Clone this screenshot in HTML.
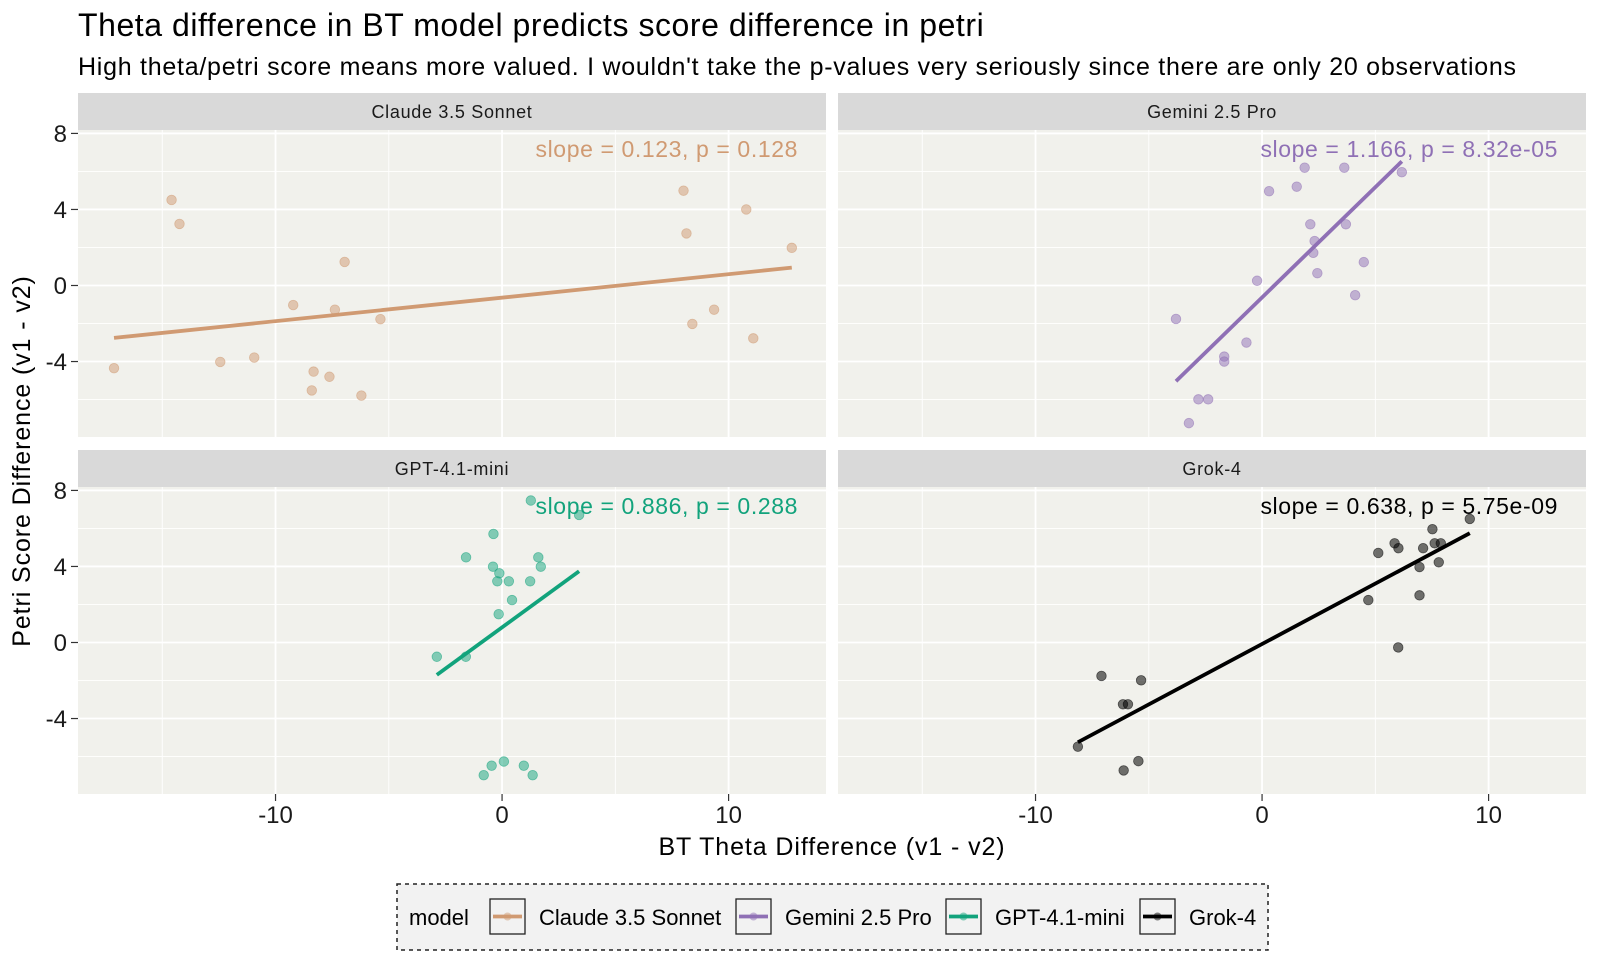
<!DOCTYPE html>
<html><head><meta charset="utf-8"><style>
body{margin:0;background:#fff;}
svg{display:block;font-family:"Liberation Sans",Arial,sans-serif;}
</style></head><body>
<svg id="chart" width="1600" height="960" viewBox="0 0 1600 960">
<text x="78" y="36" font-size="32" letter-spacing="0.55" fill="#000">Theta difference in BT model predicts score difference in petri</text>
<text x="78" y="75" font-size="25" letter-spacing="0.74" fill="#000">High theta/petri score means more valued. I wouldn't take the p-values very seriously since there are only 20 observations</text>
<text x="832" y="855" font-size="25" letter-spacing="0.9" text-anchor="middle" fill="#000">BT Theta Difference (v1 - v2)</text>
<text transform="translate(30,461) rotate(-90)" font-size="25" letter-spacing="0.9" text-anchor="middle" fill="#000">Petri Score Difference (v1 - v2)</text>
<g id="panels"></g>
<g>
<rect x="397" y="884" width="871" height="66" fill="#f2f2f2" stroke="#222" stroke-width="1.5" stroke-dasharray="4,4"/>
<text x="409" y="925" font-size="22">model</text>
<g id="legend-keys"></g>
</g>
</svg>
<script>
const models = ["Claude 3.5 Sonnet","Gemini 2.5 Pro","GPT-4.1-mini","Grok-4"];
const colors = ["#d09a72","#8f70b5","#12a37c","#000000"];
const annotations = ["slope = 0.123, p = 0.128","slope = 1.166, p = 8.32e-05","slope = 0.886, p = 0.288","slope = 0.638, p = 5.75e-09"];
const xTicks = [-10,0,10];
const xMinor = [-15,-5,5];
const yTicks = [-4,0,4,8];
const yMinor = [-6,-2,2,6];
const claudeX = [-17.13,-14.59,-14.24,-12.44,-10.94,-9.22,-8.32,-8.40,-7.62,-7.38,-6.95,-6.21,-5.37,8.01,8.14,8.40,9.36,10.78,11.09,12.79];
const claudeY = [-4.35,4.50,3.24,-4.02,-3.79,-1.03,-4.53,-5.52,-4.80,-1.27,1.24,-5.79,-1.77,4.99,2.74,-2.02,-1.27,4.00,-2.78,1.98];
const geminiX = [-3.80,-3.23,-2.81,-2.38,-1.67,-1.67,-0.69,-0.22,0.31,1.53,1.88,2.13,2.32,2.26,2.44,3.63,3.70,4.11,4.49,6.17];
const geminiY = [-1.76,-7.24,-5.99,-5.99,-3.74,-4.00,-3.00,0.25,4.96,5.20,6.20,3.22,2.34,1.72,0.65,6.20,3.22,-0.51,1.23,5.96];
const gptX = [-2.88,-1.60,-1.59,-0.38,-0.40,-0.12,-0.21,0.30,0.44,-0.15,1.24,1.27,1.60,1.71,3.40,-0.81,-0.46,0.08,0.96,1.35];
const gptY = [-0.75,-0.75,4.48,5.71,3.99,3.64,3.22,3.22,2.23,1.49,3.22,7.47,4.48,3.99,6.71,-6.98,-6.48,-6.26,-6.48,-6.98];
const grokX = [-8.13,-7.09,-6.14,-5.92,-5.34,-6.11,-5.46,4.69,5.13,5.85,6.02,6.01,6.95,6.95,7.11,7.52,7.62,7.89,7.80,9.17];
const grokY = [-5.48,-1.76,-3.25,-3.25,-1.99,-6.73,-6.24,2.23,4.71,5.22,4.96,-0.26,3.97,2.48,4.96,5.96,5.22,5.22,4.22,6.50];
const seriesX = [claudeX, geminiX, gptX, grokX];
const seriesY = [claudeY, geminiY, gptY, grokY];

const NS = "http://www.w3.org/2000/svg";
function mk(tag, attrs, parent){const e=document.createElementNS(NS,tag);for(const k in attrs)e.setAttribute(k,attrs[k]);parent.appendChild(e);return e;}
const XMIN=-18.72, XMAX=14.3, YMIN=-7.97, YMAX=8.18;
const panelsG = document.getElementById('panels');
const layout = [{l:78,t:130},{l:838,t:130},{l:78,t:487},{l:838,t:487}];
const PW=748, PH=307;
models.forEach((m,i)=>{
  const L=layout[i].l, T=layout[i].t;
  const sx=v=>L+(v-XMIN)/(XMAX-XMIN)*PW;
  const sy=v=>T+(YMAX-v)/(YMAX-YMIN)*PH;
  const g=mk('g',{},panelsG);
  
  
  const strip=mk('rect',{x:L,y:T-37,width:PW,height:37,fill:'#d9d9d9'},g);
  
  
  const st=mk('text',{x:L+PW/2,y:T-12,'font-size':18,'letter-spacing':0.7,'text-anchor':'middle',fill:'#1a1a1a'},g);
  st.textContent=m;
  
  
  const bg=mk('rect',{x:L,y:T,width:PW,height:PH,fill:'#f1f1ec'},g);
  
  
  xMinor.forEach(v=>{const ln=mk('line',{x1:sx(v),x2:sx(v),y1:T,y2:T+PH,stroke:'#fff','stroke-width':0.9},g);});
  yMinor.forEach(v=>{const ln=mk('line',{x1:L,x2:L+PW,y1:sy(v),y2:sy(v),stroke:'#fff','stroke-width':0.9},g);});
  xTicks.forEach(v=>{const ln=mk('line',{x1:sx(v),x2:sx(v),y1:T,y2:T+PH,stroke:'#fff','stroke-width':1.8},g);});
  yTicks.forEach(v=>{const ln=mk('line',{x1:L,x2:L+PW,y1:sy(v),y2:sy(v),stroke:'#fff','stroke-width':1.8},g);});
  if(L===78){
    yTicks.forEach(v=>{
      const tk=mk('line',{x1:71,x2:78,y1:sy(v),y2:sy(v),stroke:'#333','stroke-width':1.2},g);
      
      
      const tl=mk('text',{x:67,y:sy(v)+8.5,'font-size':24,'text-anchor':'end',fill:'#1a1a1a'},g);
      tl.textContent=String(v);
      
      
    });
  }
  if(T===487){
    xTicks.forEach(v=>{
      const tk=mk('line',{x1:sx(v),x2:sx(v),y1:T+PH,y2:T+PH+7,stroke:'#333','stroke-width':1.2},g);
      
      
      const tl=mk('text',{x:sx(v),y:823,'font-size':24,'text-anchor':'middle',fill:'#1a1a1a'},g);
      tl.textContent=String(v);
      
      
    });
  }
  const xs=seriesX[i], ys=seriesY[i], c=colors[i];
  xs.forEach((x,j)=>{
    const p=mk('circle',{cx:sx(x),cy:sy(ys[j]),r:4.8,fill:c,'fill-opacity':(i===3?0.55:0.5),stroke:c,'stroke-opacity':0.55,'stroke-width':0.8},g);
    
    
  });
  const n=xs.length, mx=xs.reduce((a,b)=>a+b,0)/n, my=ys.reduce((a,b)=>a+b,0)/n;
  let sxy=0,sxx=0; xs.forEach((x,j)=>{sxy+=(x-mx)*(ys[j]-my);sxx+=(x-mx)*(x-mx);});
  const b=sxy/sxx, a=my-b*mx, x0=Math.min(...xs), x1=Math.max(...xs);
  const fl=mk('line',{x1:sx(x0),y1:sy(a+b*x0),x2:sx(x1),y2:sy(a+b*x1),stroke:c,'stroke-width':3.8},g);
  
  
  const an=mk('text',{x:L+PW-28,y:T+27,'font-size':23,'letter-spacing':0.6,'text-anchor':'end',fill:c},g);
  an.textContent=annotations[i];
  
  
});
const lk=document.getElementById('legend-keys');
const keyX=[490,736,946,1140];
models.forEach((m,i)=>{
  const g=mk('g',{},lk);
  
  
  mk('rect',{x:keyX[i],y:899,width:35,height:35,fill:'#f2f2f2',stroke:'#222','stroke-width':1.3},g);
  mk('line',{x1:keyX[i]+3,x2:keyX[i]+32,y1:916.5,y2:916.5,stroke:colors[i],'stroke-width':3.8},g);
  mk('circle',{cx:keyX[i]+17.5,cy:916.5,r:4,fill:colors[i],'fill-opacity':0.5},g);
  const t=mk('text',{x:keyX[i]+49,y:925,'font-size':22},g);
  t.textContent=m;
  
  
});
</script>
</body></html>
